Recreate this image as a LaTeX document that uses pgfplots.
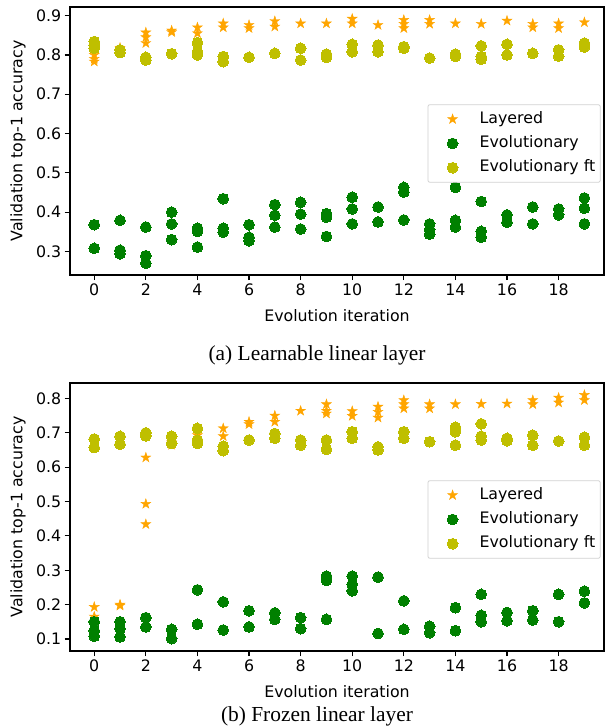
\documentclass[border=0pt]{standalone}
\usepackage{pgfplots}
\pgfplotsset{compat=1.18}
\usepackage{fontspec}
\setmainfont{Liberation Serif}
\newfontfamily\dejavu{DejaVu Sans}
\definecolor{mplorange}{HTML}{FFA500}
\definecolor{mplgreen}{HTML}{008000}
\definecolor{mplyellow}{HTML}{BFBF00}
\pgfdeclareplotmark{fstar}{%
  \pgfpathmoveto{\pgfpointpolar{90}{\pgfplotmarksize}}%
  \pgfpathlineto{\pgfpointpolar{126}{0.382\pgfplotmarksize}}%
  \pgfpathlineto{\pgfpointpolar{162}{\pgfplotmarksize}}%
  \pgfpathlineto{\pgfpointpolar{198}{0.382\pgfplotmarksize}}%
  \pgfpathlineto{\pgfpointpolar{234}{\pgfplotmarksize}}%
  \pgfpathlineto{\pgfpointpolar{270}{0.382\pgfplotmarksize}}%
  \pgfpathlineto{\pgfpointpolar{306}{\pgfplotmarksize}}%
  \pgfpathlineto{\pgfpointpolar{342}{0.382\pgfplotmarksize}}%
  \pgfpathlineto{\pgfpointpolar{18}{\pgfplotmarksize}}%
  \pgfpathlineto{\pgfpointpolar{54}{0.382\pgfplotmarksize}}%
  \pgfpathclose
  \pgfusepathqfillstroke
}
\newcommand{\axfont}{\dejavu\fontsize{15.8}{19}\selectfont}
\pgfplotsset{
  myax/.style={
    anchor=south west, scale only axis, width=534pt, height=268pt,
    xmin=-0.94, xmax=19.76,
    xtick={0,2,...,18},
    tick align=outside, major tick length=5.25pt,
    tick style={black, line width=1.2pt},
    axis line style={black, line width=1.2pt},
    xtick pos=bottom, ytick pos=left,
    /pgf/number format/assume math mode=true,
    tick label style={font=\axfont},
    yticklabel style={/pgf/number format/fixed, /pgf/number format/precision=1, /pgf/number format/fixed zerofill},
    xlabel={Evolution iteration},
    ylabel={Validation top-1 accuracy},
    every axis x label/.style={at={(rel axis cs:0.5,0)}, anchor=center, yshift=-41pt, font=\axfont},
    every axis y label/.style={at={(rel axis cs:0,0.5)}, rotate=90, anchor=center, yshift=52pt, font=\axfont},
    legend cell align=left,
    legend image code/.code={\path[draw=none,fill=none] (-21.7pt,0pt) -- (25pt,0pt); \draw[##1] plot coordinates {(0pt,0pt)};},
    legend style={at={(1,0.5)}, anchor=east, xshift=-3.3pt, yshift=-2.5pt, draw=black!18, line width=0.8pt, rounded corners=2pt,
      font=\axfont, row sep=5.3pt, inner xsep=3pt, inner ysep=5pt,
      nodes={inner sep=2pt, text height=11.5pt, text depth=3.5pt}},
  },
  lay/.style={only marks, mark=fstar, mark size=5.2pt, color=mplorange, mark options={line width=0.4pt, fill=mplorange, draw=mplorange}},
  evo/.style={only marks, mark=*, mark size=5.4pt, color=mplgreen, mark options={line width=0pt, fill=mplgreen, draw=mplgreen}},
  evoft/.style={only marks, mark=*, mark size=5.4pt, color=mplyellow, mark options={line width=0pt, fill=mplyellow, draw=mplyellow}},
}
\begin{document}
\begin{tikzpicture}[x=1pt,y=1pt]
\path[use as bounding box] (0,0) rectangle (605,727);
% ---------------- (a) Learnable linear layer
\begin{axis}[myax, at={(70pt,452pt)}, ymin=0.240, ymax=0.922, ytick={0.3,0.4,...,0.9}]
\addplot[lay] coordinates {
(0,0.800)(0,0.790)(0,0.783)
(1,0.818)
(2,0.857)(2,0.845)(2,0.830)
(3,0.862)(3,0.858)
(4,0.870)(4,0.855)
(5,0.880)(5,0.870)
(6,0.876)(6,0.868)
(7,0.886)(7,0.872)
(8,0.880)
(9,0.880)
(10,0.892)(10,0.880)
(11,0.876)
(12,0.889)(12,0.879)(12,0.868)
(13,0.889)(13,0.879)
(14,0.880)
(15,0.879)
(16,0.887)
(17,0.879)(17,0.870)
(18,0.880)(18,0.868)
(19,0.883)
};
\addlegendentry{Layered}
\addplot[evo] coordinates {
(0,0.368)(0,0.308)
(1,0.379)(1,0.303)(1,0.294)
(2,0.362)(2,0.289)(2,0.270)
(3,0.400)(3,0.370)(3,0.330)
(4,0.359)(4,0.351)(4,0.311)
(5,0.434)(5,0.359)(5,0.349)
(6,0.368)(6,0.336)(6,0.327)
(7,0.419)(7,0.392)(7,0.362)
(8,0.425)(8,0.395)(8,0.357)
(9,0.396)(9,0.387)(9,0.338)
(10,0.438)(10,0.408)(10,0.370)
(11,0.413)(11,0.375)
(12,0.463)(12,0.451)(12,0.380)
(13,0.370)(13,0.355)(13,0.344)
(14,0.463)(14,0.379)(14,0.362)
(15,0.427)(15,0.351)(15,0.336)
(16,0.393)(16,0.374)
(17,0.413)(17,0.370)
(18,0.408)(18,0.393)
(19,0.436)(19,0.410)(19,0.370)
};
\addlegendentry{Evolutionary}
\addplot[evoft] coordinates {
(0,0.834)(0,0.825)(0,0.817)
(1,0.813)(1,0.806)
(2,0.794)(2,0.787)
(3,0.803)
(4,0.831)(4,0.808)(4,0.800)
(5,0.796)(5,0.783)
(6,0.794)
(7,0.804)
(8,0.817)(8,0.787)
(9,0.802)(9,0.794)
(10,0.827)(10,0.808)
(11,0.825)(11,0.808)
(12,0.821)(12,0.817)
(13,0.792)
(14,0.802)(14,0.796)
(15,0.823)(15,0.796)(15,0.789)
(16,0.827)(16,0.800)
(17,0.804)
(18,0.813)(18,0.797)
(19,0.830)(19,0.820)
};
\addlegendentry{Evolutionary ft}
\end{axis}
\node[font=\fontsize{21.4}{25}\selectfont] at (317,372) {(a) Learnable linear layer};
% ---------------- (b) Frozen linear layer
\begin{axis}[myax, at={(70pt,76pt)}, ymin=0.065, ymax=0.845, ytick={0.1,0.2,...,0.8}]
\addplot[lay] coordinates {
(0,0.193)(0,0.165)
(1,0.200)(1,0.197)
(2,0.628)(2,0.493)(2,0.434)
(3,0.672)(3,0.665)
(4,0.693)
(5,0.713)(5,0.690)
(6,0.732)(6,0.725)
(7,0.750)(7,0.732)
(8,0.764)
(9,0.783)(9,0.764)(9,0.756)
(10,0.763)(10,0.749)
(11,0.776)(11,0.761)(11,0.744)
(12,0.795)(12,0.783)(12,0.771)
(13,0.783)(13,0.771)
(14,0.783)
(15,0.784)
(16,0.785)
(17,0.795)(17,0.783)
(18,0.802)(18,0.788)
(19,0.810)(19,0.795)
};
\addlegendentry{Layered}
\addplot[evo] coordinates {
(0,0.150)(0,0.124)(0,0.108)
(1,0.150)(1,0.130)(1,0.106)
(2,0.162)(2,0.135)
(3,0.128)(3,0.101)
(4,0.243)(4,0.143)
(5,0.208)(5,0.126)
(6,0.182)(6,0.135)
(7,0.176)(7,0.157)
(8,0.162)(8,0.130)
(9,0.283)(9,0.270)(9,0.157)
(10,0.283)(10,0.259)(10,0.240)
(11,0.280)(11,0.116)
(12,0.211)(12,0.128)
(13,0.137)(13,0.118)
(14,0.191)(14,0.124)
(15,0.230)(15,0.169)(15,0.150)
(16,0.177)(16,0.153)
(17,0.182)(17,0.155)
(18,0.230)(18,0.150)
(19,0.239)(19,0.205)
};
\addlegendentry{Evolutionary}
\addplot[evoft] coordinates {
(0,0.682)(0,0.657)
(1,0.690)(1,0.667)
(2,0.700)(2,0.691)
(3,0.690)(3,0.669)
(4,0.713)(4,0.679)(4,0.669)
(5,0.661)(5,0.648)
(6,0.679)
(7,0.698)(7,0.684)
(8,0.679)(8,0.664)
(9,0.679)(9,0.652)
(10,0.703)(10,0.684)
(11,0.659)(11,0.650)
(12,0.703)(12,0.684)
(13,0.674)
(14,0.716)(14,0.703)(14,0.664)
(15,0.726)(15,0.690)(15,0.679)
(16,0.684)(16,0.677)
(17,0.693)(17,0.664)
(18,0.676)
(19,0.687)(19,0.664)
};
\addlegendentry{Evolutionary ft}
\end{axis}
\node[font=\fontsize{21.4}{25}\selectfont] at (317,11) {(b) Frozen linear layer};
\end{tikzpicture}
\end{document}
